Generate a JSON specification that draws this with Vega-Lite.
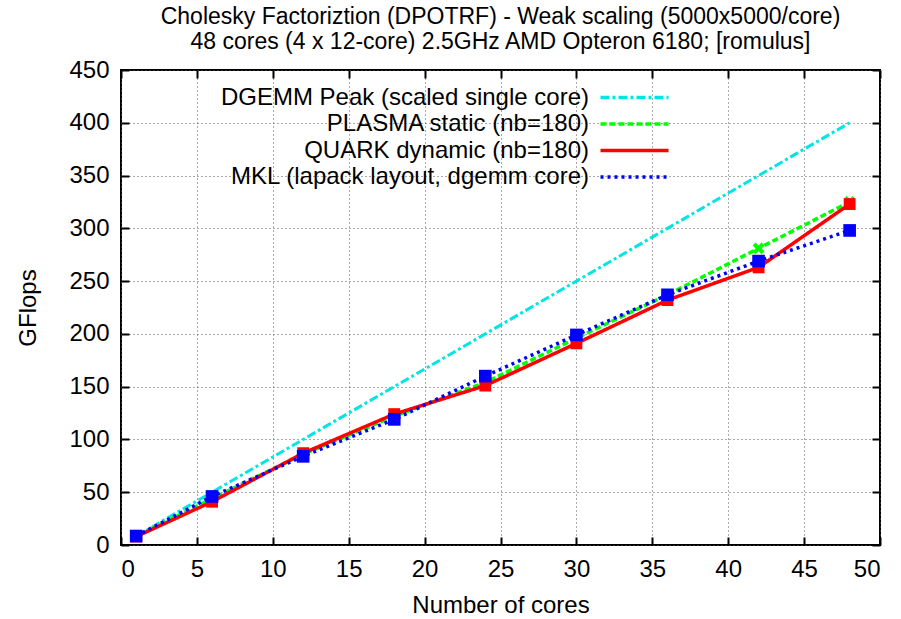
{
  "$schema": "https://vega.github.io/schema/vega-lite/v6.json",
  "width": 759,
  "height": 475,
  "autosize": {"type": "none"},
  "padding": {"left": 121, "top": 70, "right": 21, "bottom": 74},
  "title": {
    "text": ["Cholesky Factoriztion (DPOTRF) - Weak scaling (5000x5000/core)", "48 cores (4 x 12-core) 2.5GHz AMD Opteron 6180; [romulus]"],
    "fontSize": 23, "fontWeight": "normal", "lineHeight": 25, "anchor": "middle", "offset": 4, "color": "#000", "frame": "group"
  },
  "data": {"values": [
    {"series": "DGEMM Peak (scaled single core)", "cores": 1, "gflops": 8.33},
    {"series": "DGEMM Peak (scaled single core)", "cores": 6, "gflops": 50},
    {"series": "DGEMM Peak (scaled single core)", "cores": 12, "gflops": 100},
    {"series": "DGEMM Peak (scaled single core)", "cores": 18, "gflops": 150},
    {"series": "DGEMM Peak (scaled single core)", "cores": 24, "gflops": 200},
    {"series": "DGEMM Peak (scaled single core)", "cores": 30, "gflops": 250},
    {"series": "DGEMM Peak (scaled single core)", "cores": 36, "gflops": 300},
    {"series": "DGEMM Peak (scaled single core)", "cores": 42, "gflops": 350},
    {"series": "DGEMM Peak (scaled single core)", "cores": 48, "gflops": 400},
    {"series": "PLASMA static (nb=180)", "cores": 1, "gflops": 8},
    {"series": "PLASMA static (nb=180)", "cores": 6, "gflops": 44},
    {"series": "PLASMA static (nb=180)", "cores": 12, "gflops": 86},
    {"series": "PLASMA static (nb=180)", "cores": 18, "gflops": 122},
    {"series": "PLASMA static (nb=180)", "cores": 24, "gflops": 154},
    {"series": "PLASMA static (nb=180)", "cores": 30, "gflops": 196},
    {"series": "PLASMA static (nb=180)", "cores": 36, "gflops": 237},
    {"series": "PLASMA static (nb=180)", "cores": 42, "gflops": 281},
    {"series": "PLASMA static (nb=180)", "cores": 48, "gflops": 325},
    {"series": "QUARK dynamic (nb=180)", "cores": 1, "gflops": 8},
    {"series": "QUARK dynamic (nb=180)", "cores": 6, "gflops": 41},
    {"series": "QUARK dynamic (nb=180)", "cores": 12, "gflops": 87},
    {"series": "QUARK dynamic (nb=180)", "cores": 18, "gflops": 124},
    {"series": "QUARK dynamic (nb=180)", "cores": 24, "gflops": 151},
    {"series": "QUARK dynamic (nb=180)", "cores": 30, "gflops": 191},
    {"series": "QUARK dynamic (nb=180)", "cores": 36, "gflops": 232},
    {"series": "QUARK dynamic (nb=180)", "cores": 42, "gflops": 263},
    {"series": "QUARK dynamic (nb=180)", "cores": 48, "gflops": 323},
    {"series": "MKL (lapack layout, dgemm core)", "cores": 1, "gflops": 8.5},
    {"series": "MKL (lapack layout, dgemm core)", "cores": 6, "gflops": 46},
    {"series": "MKL (lapack layout, dgemm core)", "cores": 12, "gflops": 84},
    {"series": "MKL (lapack layout, dgemm core)", "cores": 18, "gflops": 119},
    {"series": "MKL (lapack layout, dgemm core)", "cores": 24, "gflops": 160},
    {"series": "MKL (lapack layout, dgemm core)", "cores": 30, "gflops": 199},
    {"series": "MKL (lapack layout, dgemm core)", "cores": 36, "gflops": 237},
    {"series": "MKL (lapack layout, dgemm core)", "cores": 42, "gflops": 269},
    {"series": "MKL (lapack layout, dgemm core)", "cores": 48, "gflops": 298}
  ]},
  "layer": [
    {
      "encoding": {
        "x": {"field": "cores", "type": "quantitative", "scale": {"domain": [0, 50], "nice": false}, "axis": {"values": [0,5,10,15,20,25,30,35,40,45,50], "title": "Number of cores"}},
        "y": {"field": "gflops", "type": "quantitative", "scale": {"domain": [0, 450], "nice": false}, "axis": {"values": [0,50,100,150,200,250,300,350,400,450], "title": "GFlops"}}
      },
      "layer": [
        {
          "transform": [{"filter": "datum.series === 'DGEMM Peak (scaled single core)'"}],
          "mark": {"type": "line", "strokeWidth": 3},
          "encoding": {
            "color": {"field": "series", "type": "nominal", "legend": {"title": null, "symbolType": "M-3.4,0L3.4,0", "symbolSize": 400, "symbolStrokeWidth": 3.5}, "scale": {"domain": ["DGEMM Peak (scaled single core)", "PLASMA static (nb=180)", "QUARK dynamic (nb=180)", "MKL (lapack layout, dgemm core)"], "range": ["#00e5e5", "#00ff00", "#ff0000", "#0000ff"]}},
            "strokeDash": {"field": "series", "type": "nominal", "legend": {"title": null, "symbolType": "M-3.4,0L3.4,0", "symbolSize": 400, "symbolStrokeWidth": 3.5}, "scale": {"domain": ["DGEMM Peak (scaled single core)", "PLASMA static (nb=180)", "QUARK dynamic (nb=180)", "MKL (lapack layout, dgemm core)"], "range": [[9, 3, 3, 3], [6, 3], [1, 0], [3, 4]]}}
          }
        },
        {
          "transform": [{"filter": "datum.series === 'PLASMA static (nb=180)'"}],
          "mark": {"type": "line", "strokeWidth": 3.5},
          "encoding": {
            "color": {"field": "series", "type": "nominal", "legend": {"title": null, "symbolType": "M-3.4,0L3.4,0", "symbolSize": 400, "symbolStrokeWidth": 3.5}},
            "strokeDash": {"field": "series", "type": "nominal", "legend": {"title": null, "symbolType": "M-3.4,0L3.4,0", "symbolSize": 400, "symbolStrokeWidth": 3.5}}
          }
        },
        {
          "transform": [{"filter": "datum.series === 'PLASMA static (nb=180)'"}],
          "mark": {"type": "point", "filled": true, "size": 140, "opacity": 1, "strokeWidth": 0, "color": "#00ff00", "shape": "M-1,-0.5L-0.5,-1L0,-0.5L0.5,-1L1,-0.5L0.5,0L1,0.5L0.5,1L0,0.5L-0.5,1L-1,0.5L-0.5,0Z"}
        },
        {
          "transform": [{"filter": "datum.series === 'QUARK dynamic (nb=180)'"}],
          "mark": {"type": "line", "strokeWidth": 3.5},
          "encoding": {
            "color": {"field": "series", "type": "nominal", "legend": {"title": null, "symbolType": "M-3.4,0L3.4,0", "symbolSize": 400, "symbolStrokeWidth": 3.5}},
            "strokeDash": {"field": "series", "type": "nominal", "legend": {"title": null, "symbolType": "M-3.4,0L3.4,0", "symbolSize": 400, "symbolStrokeWidth": 3.5}}
          }
        },
        {
          "transform": [{"filter": "datum.series === 'QUARK dynamic (nb=180)'"}],
          "mark": {"type": "point", "filled": true, "size": 140, "opacity": 1, "strokeWidth": 0, "color": "#ff0000", "shape": "square"}
        },
        {
          "transform": [{"filter": "datum.series === 'MKL (lapack layout, dgemm core)'"}],
          "mark": {"type": "line", "strokeWidth": 3.5},
          "encoding": {
            "color": {"field": "series", "type": "nominal", "legend": {"title": null, "symbolType": "M-3.4,0L3.4,0", "symbolSize": 400, "symbolStrokeWidth": 3.5}},
            "strokeDash": {"field": "series", "type": "nominal", "legend": {"title": null, "symbolType": "M-3.4,0L3.4,0", "symbolSize": 400, "symbolStrokeWidth": 3.5}}
          }
        },
        {
          "transform": [{"filter": "datum.series === 'MKL (lapack layout, dgemm core)'"}],
          "mark": {"type": "point", "filled": true, "size": 160, "opacity": 1, "strokeWidth": 0, "color": "#0000ff", "shape": "square"}
        }
      ]
    },
    {
      "mark": {"type": "point", "opacity": 0},
      "encoding": {
        "x": {"field": "cores", "type": "quantitative", "scale": {"domain": [0, 50], "nice": false}, "axis": {"orient": "top", "values": [0,5,10,15,20,25,30,35,40,45,50], "labels": false, "grid": false, "title": null}},
        "y": {"field": "gflops", "type": "quantitative", "scale": {"domain": [0, 450], "nice": false}, "axis": {"orient": "right", "values": [0,50,100,150,200,250,300,350,400,450], "labels": false, "grid": false, "title": null}}
      }
    }
  ],
  "resolve": {"axis": {"x": "independent", "y": "independent"}},
  "config": {
    "font": "Liberation Sans",
    "view": {"stroke": "#000", "strokeWidth": 2},
    "axis": {
      "domain": false,
      "grid": true, "gridColor": "#555", "gridDash": [1, 3], "gridWidth": 1, "gridOpacity": 1,
      "ticks": true, "tickColor": "#000", "tickWidth": 2, "tickSize": -8,
      "labelFontSize": 24, "labelColor": "#000", "labelPadding": 20,
      "titleFontSize": 24, "titleFontWeight": "normal", "titleColor": "#000"
    },
    "axisX": {"titlePadding": 12},
    "axisY": {"titlePadding": 28},
    "legend": {
      "orient": "none", "legendX": 501.5, "legendY": 15.5, "direction": "vertical",
      "labelFontSize": 24, "labelColor": "#000", "labelAlign": "right", "labelOffset": -57.5, "labelLimit": 0,
      "rowPadding": 2.5, "padding": 0
    }
  }
}
